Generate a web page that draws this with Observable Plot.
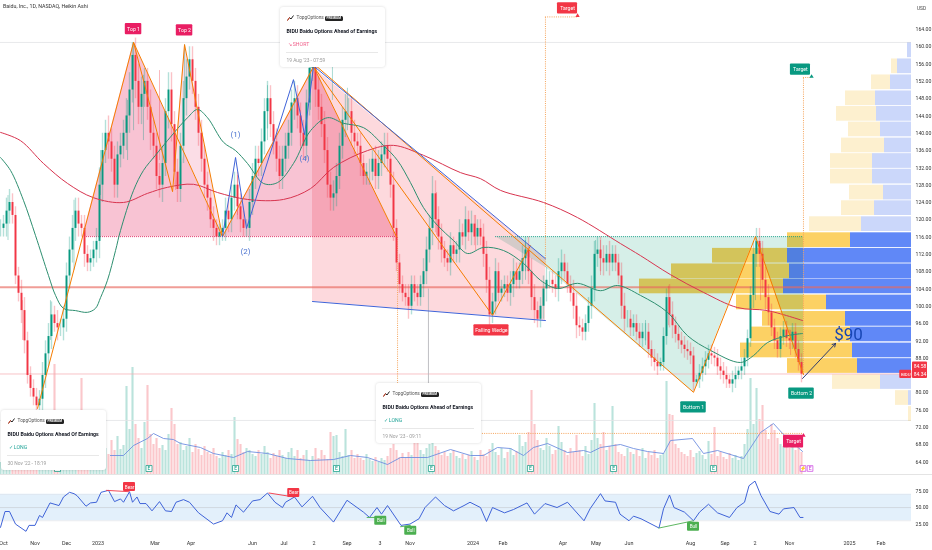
<!DOCTYPE html>
<html>
<head>
<meta charset="utf-8">
<script src="https://cdn.jsdelivr.net/npm/d3@7"></script>
<script src="https://cdn.jsdelivr.net/npm/@observablehq/plot@0.6"></script>
<style>
html,body{margin:0;padding:0;background:#fff;width:932px;height:550px;overflow:hidden;font-family:Roboto,sans-serif}
#chart{position:relative;width:932px;height:550px;overflow:hidden}
#chart>svg{position:absolute;left:0}
.card{position:absolute;width:105px;height:60px;background:#fff;border-radius:3px;box-shadow:0 0 3px rgba(0,0,0,.16);color:#131722;box-sizing:border-box}
.card div{position:absolute;white-space:nowrap}
.brand{top:7.5px;left:16.5px;font-size:4.8px;color:#555}
.badge{top:8.5px;left:45px;background:#222;color:#fff;font-size:3.2px;font-weight:700;padding:0.5px 1.5px;border-radius:1.5px}
.logo{top:8px;left:7px;line-height:0}
.logo svg{display:block}
.ttl{top:20.5px;left:6.5px;font-size:5.25px;font-weight:700}
.st{top:33.5px;left:7.5px;font-size:5.2px}
.hr{top:45px;left:6px;right:7px;border-top:.6px solid #e8e8e8}
.dt{top:50px;left:6.5px;font-size:4.9px;color:#9a9a9a}
.name{position:absolute;left:3px;top:3px;font-size:5.3px;color:#333}
</style>
</head>
<body>
<div id="chart"></div>
<script>
// ---- candles: close sampled every 2 trading bars, prices in USD ----
const closes = [118,119,122,124,121,107,103,99,92,84,81,
79,77,78.5,84,89,93,98,96,95,95,97,
107,113,118,122,119,118,112,110,111,113,115,
128,136,140,138,134,128,135,137,140,144,150,158,152,146,149,152,146,140,137,130,128,133,145,150,142,131,127,137,148,153,157,152,146,140,134,128,125,120,118,116,117,118,122,120,125,128,123,120,118,118,124,130,134,133,138,145,148,142,138,134,130,134,137,140,147,148,144,140,137,147,155,156,150,146,142,136,128,125,126,130,137,143,145,145,140,138,137,133,130,131,131,134,130,133,135,137,134,128,118,110,105,103,102,100,105,103,102,105,108,113,118,126,120,116,113,111,110,114,112,113,117,116,120,117,119,116,118,116,112,106,98,101,108,103,104,105,103,105,108,106,108,111,113,108,102,99,97,100,104,106,106,105,104,108,110,108,105,103,100,95.5,95,94,96,100,104,112,113,111,110,112,110,112,110,107,100,97,97,95,96,94,92.5,94,94,90,88,87,86,87,93,102,98,95.5,93.5,92,91,90,89.5,88.5,82.4,83,84.5,86,87.5,89,88.5,88,86,85,84,83,82,83,84,85,86,88,92.5,102.5,112,115,112,106,102,98.5,95,92,90,93,94.5,92.5,92,94,90,87,84.3];
const barStep = 2;
// pale wick reach beyond each candle body, USD
const wickReach = [2,2,3,3,2,2,2,3,3,2,2,
2,2,2,3,3,3,3,2,3,2,3,
3,3,3,3,3,2,3,2,2,2,3,
4,4,3,4,3,3,3,3,3,4,4,3,4,4,4,3,3,4,3,3,3,4,3,4,4,3,3,3,4,4,3,3,3,3,3,3,3,2,3,2,2,2,3,3,3,3,3,3,2,2,3,3,3,3,3,3,4,3,3,3,3,3,3,3,3,4,3,3,3,3,3,3,4,3,3,3,3,3,3,3,3,3,4,3,3,3,2,3,2,2,3,2,3,3,3,3,3,3,3,2,2,2,2,3,2,2,2,2,3,3,3,4,3,3,3,2,2,3,2,2,3,2,3,2,3,2,2,2,3,3,3,2,3,2,2,2,2,3,3,2,2,3,3,3,3,3,2,2,3,3,2,2,2,3,3,2,2,2,3,3,2,2,2,2,3,3,3,3,3,2,3,2,2,2,3,3,2,2,2,2,2,2,2,2,2,2,2,1,2,2,3,3,2,2,2,2,2,2,2,1,2,2,2,2,2,2,2,2,2,2,1,2,2,1,2,2,2,2,3,3,3,3,3,3,2,2,2,2,2,2,2,2,2,2,2,2,2,1];
const wickBars = [5,14.7,33.3,49,66.7,84.7,88.7,95.3,106,116.7,122.7,158,178,200,206.7,221.3,231.3,290.7,316.7,350,396.7,400,430,445.3,503.3,506.7,526.7];
const wickHighs = [125.6,101.3,101.3,124.5,136,147.6,161,153.4,154.5,136,160.5,130.2,151,145.3,155.4,155.2,150.4,126.3,121,115.2,115.2,115.2,96.7,104.6,116.1,114.5,94.4];
const wickLows = [115.2,92.1,92.1,108.3,125.6,133.7,140.6,138.3,133.7,126.8,147.6,121,138.3,136,145.3,147.6,140.6,116.4,112.9,106,103.6,107.1,90.9,95.5,101.3,101.3,88.6];
// ---- volume in millions, one per candle ----
const volumes = [1.2,1.4,1.6,1.3,1.8,1.5,1.7,2,1.6,1.9,
2.2,1.8,2,2.4,2.1,1.9,2.3,2,11,2.5,
2.2,2,1.8,2.4,2.6,2.1,2,9.6,2.3,2.5,
2,2.2,1.9,2.4,2.1,2.6,2,3.4,2.4,3.8,
2.5,2.9,8.8,4.5,10.7,5,3.6,2.6,5.2,8.9,
4,3,3.6,2.6,2.9,2.4,4,6.6,5,3,
3.2,2.4,2.8,3.6,2.2,3,2.5,1.9,2.8,2.2,
2,2.6,1.8,1.6,2.2,1.9,2.4,2,5.7,3.5,
3,2.2,2.6,2.4,2,1.8,2.4,2,2.8,2.2,
1.6,2.1,1.8,2.4,1.9,1.6,2.2,2.6,1.8,2.4,
1.6,1.9,2.4,1.4,1.8,2.6,1.6,2.4,1.9,1.5,
4.2,3.8,3.9,2.2,1.8,4.5,1.9,2.4,1.6,2,
1.6,1.4,2,1.5,1.3,1.7,1.2,1.6,1.4,1.8,
2.6,3,2.4,1.7,2.1,1.6,2.2,1.9,3.2,4.5,
2.4,2,2.6,3,3.2,2.8,2.4,1.9,2.2,1.8,
2.1,2.4,1.8,1.6,2,1.5,1.9,2.3,1.7,1.4,
2.4,2,1.8,2.5,3.1,2.2,1.9,2.6,1.6,2.2,
2.6,1.9,2.3,3.9,2.8,3.2,4.2,8.4,5,3.4,
2.6,2.4,3.6,2.8,2,2.4,4.8,3.2,2.4,1.9,
2.6,2.2,3.9,2.4,1.8,2.8,2,3.4,7.1,3.6,
3,4.2,2.4,2.8,6.8,3,2.2,2,1.8,2.6,
2.2,2,2.4,1.8,2.6,1.6,2.2,1.9,2.4,1.6,
1.9,2.1,9.3,6,5.9,3,2.6,2.2,2,1.8,
2.4,1.7,2.1,2.3,1.9,1.5,3.3,2,4.7,1.8,
2.2,1.7,1.5,2.1,1.6,1.9,1.4,1.8,3,4.5,
9.6,5,8.6,5.5,6.9,4.4,3.5,5,4.4,3.6,
3,2.8,3.4,2.6,2.9,2.4,2.6,2.2];
const volMaBars = [73.3,82,88.7,98,102,108.7,115.3,120,133.3,142,155.3,164.7,178,191.3,206.7,222,233.3,244.7,258,266.7,284.7,300,313.3,322,331.3,340,348.7,355.3,364.7,378,388.7,393.3,400,413.3,422,431.3,442,446.7,461.3,468.7,478,495.3,506.7,515.3,522,534.7];
const volMaValues = [1.9,1.9,2.9,3.6,4.1,3.6,3.5,3.1,2.7,2.1,1.7,2.3,2.1,1.6,1.4,1.5,1.9,1.7,1,1.7,1.7,2.5,1.9,1.9,2.7,2.6,1.9,2.7,3.1,2.2,2.4,2.2,2.7,3,2.6,2.3,2.1,3.4,3.6,2.1,2.4,1.6,4.2,5.1,4,2.3];
// ---- moving averages ----
const ma50Bars = [0,6.7,15.3,23.3,32,36.7,42,50,58,63.3,66.7,71.3,76.7,80,88.7,95.3,103.3,111.3,124.7,131.3,138,148.7,156.7,164.7,175.3,184.7,195.3,206.7,218,228.7,242,255.3,264.7,273.3,282,291.3,302,311.3,322,335.3,348.7,360,371.3,384.7,400,411.3,426.7,444.7,458,473.3,493.3,502,511.3,524.7,534.7];
const ma50Values = [134.4,131.4,124.5,116.4,107.1,102.5,99.5,99,98.6,99.5,102,106,112.9,117.5,126.8,131.4,134.9,138.3,143.6,145.5,143.6,137.9,136,133,128.4,128.6,133,140.6,143.6,142.3,141.3,137.2,133.7,128.6,122.8,118.7,115.2,112.2,113.6,112.9,109.9,106,104.1,105.3,103.6,104.8,102.5,98.6,93.2,89.8,87,88.6,91.6,93.2,93.7];
const ma200Bars = [0,13.3,28.7,44.7,62,82,98,111.3,128.7,144.7,164.7,188.7,206.7,222,244.7,262,282,306.7,320,333.3,362,384.7,413.3,426.7,446.7,468.7,491.3,511.3,534.7];
const ma200Values = [140.2,138.3,133,128.4,125.1,124,126.1,127.5,128.2,126.3,124.7,124.7,127.2,132.1,136,137.2,134.9,130.9,129.5,126.8,124,120.5,114.5,111.7,107.3,103.2,99.7,99,96.7];
// ---- RSI ----
const rsiBars = [0,3,6,10,17,19,23,26,28,33,39,42,46,49,51,57,60,64,67,72,76,80,82,86,88,91,93,97,101,106,110,114,117,122,126,132,142,148,151,154,157,162,168,173,178,183,188,190,196,201,208,213,222,231,242,246,251,254,258,267,273,279,283,290,296,302,309,313,320,324,328,336,342,351,356,363,371,378,389,393,400,403,410,413,419,422,427,439,442,446,449,456,462,466,472,478,486,491,496,499,503,507,513,519,522,529,533,535];
const rsiValues = [20,44,44,25,14,23,23,38,35,57,53,66,73,71,68,52,57,58,73,76,59,63,58,74,58,66,56,56,45,59,45,44,58,62,58,42,25,30,42,35,54,43,60,62,72,58,50,58,66,51,67,50,28,61,43,35,50,40,53,23,25,33,50,66,53,45,53,58,50,29,50,42,47,57,40,56,50,58,30,48,71,60,58,40,30,37,33,19,48,69,50,43,30,43,55,42,35,50,58,83,90,68,44,40,48,50,35,35];
const divergences = [
  {kind:"Bear", bars:[70.7,85.6], rsi:[76,74]},
  {kind:"Bear", bars:[179,195.6], rsi:[72,66]},
  {kind:"Bull", bars:[244.4,253.3], rsi:[35,35]},
  {kind:"Bull", bars:[266.7,273.3], rsi:[21,23]},
  {kind:"Bull", bars:[439,462], rsi:[19,30]}
];
const divergenceLabels = [
  {t:"Bear",bar:86,rsi:81,c:"#f23645"},{t:"Bear",bar:195.5,rsi:72,c:"#f23645"},
  {t:"Bull",bar:253.5,rsi:30,c:"#4caf50"},{t:"Bull",bar:273.5,rsi:15,c:"#4caf50"},{t:"Bull",bar:462,rsi:21,c:"#4caf50"}
];
// ---- drawn patterns [bar, price] ----
const fibTop = [[24.7,76.4],[88.7,161],[114.7,126.5],[122.7,160.5],[148,116.1],[208.7,155.4],[264,116.1]];
const diagA = [[88.7,161],[148,116.1]];
const wedgeInnerA = [[208.7,155.4],[328,97.9],[353.3,114]];
const wedgeInnerB = [[211,155.4],[462,80.1],[503.3,116.1],[535.3,84.2]];
const waves = [[148,116.1],[156.7,134.4],[164,118],[195.3,152.4],[202.7,139.7],[208.7,155.4]];
const wedgeUpper = [[209.3,155.4],[363.3,111]];
const wedgeLower = [[208,101.1],[363.3,96.7]];
// fills: [bar, lower price, upper price]
const pinkMain = [[54.7,116.1,116.1],[88.7,116.1,161],[148,116.1,116.1]];
const pinkLight = [[114.7,126.5,126.5],[122.7,135.3,160.5],[148,116.1,116.1]];
const pinkHead = [[148,116.1,116.1],[208.7,116.1,155.4],[264,116.1,116.1]];
const wedgeFill = [[208,101.1,155.4],[363.3,96.7,111]];
const mintFill = [[330,116.1,116.1],[363.3,109,116.1],[462,80.1,116.1],[503.3,116.1,116.1],[535.3,84.2,116.1]];
// ---- volume profile ----
const profileTop = [161,157.3,153.6,149.9,146.3,142.7,139,135.4,131.8,128.1,124.5,120.8,117.1,113.5,109.9,106.4,102.7,98.9,95.3,91.6,88,84.3,80.6,76.9];
const profileUp = [4,14,21,36,35,31,27,39,39,28,37,50,61,124,122,128,85,66,61,59,54,31,3,0];
const profileDown = [0,6,19,30,40,32,43,42,42,34,33,52,63,75,118,144,90,83,99,112,70,48,13,3];
const valueAreaHigh = 117.1, valueAreaLow = 84.3;
// ---- axes ----
const priceTicks = [164,160,156,152,148,144,140,136,132,128,124,120,116,112,108,104,100,96,92,88,80,76,72,68,64];
const rsiTicks = [75,50,25];
const timeBars = [2,23,44,65,103,127,168,189,209,231,253,273,315,335,375,397,419,460,483,503,526,566,587];
const timeLabels = ["Oct","Nov","Dec","2023","Mar","Apr","Jun","Jul","2","Sep","3","Nov","2024","Feb","Apr","May","Jun","Aug","Sep","2","Nov","2025","Feb"];
const earningsBars = [38,99,156.7,224,287.3,353.3,408.7,475.3];
// labels: centre, half width in bars, half height in USD
const tags = [
 {t:"Top 1",bar:88.7,p:164.1,c:"#e91e63",hw:5.5,hh:1.3},{t:"Top 2",bar:122.7,p:163.8,c:"#e91e63",hw:5.5,hh:1.3},
 {t:"Falling Wedge",bar:327.3,p:94.4,c:"#f23645",hw:11.7,hh:1.3},
 {t:"Bottom 1",bar:462,p:76.6,c:"#089981",hw:8.5,hh:1.3},{t:"Bottom 2",bar:534,p:79.8,c:"#089981",hw:8.5,hh:1.3},
 {t:"Target",bar:533.3,p:154.7,c:"#089981",hw:6.7,hh:1.3},{t:"Target",bar:378,p:168.9,c:"#f23645",hw:6.7,hh:1.3},
 {t:"Target",bar:528.7,p:68.7,c:"#e91e63",hw:6.7,hh:1.45}
];
const tagTails = [{bar:540.7,p:153.1,c:"#089981"},{bar:384.7,p:167.2,c:"#f23645"},{bar:535.3,p:70.1,c:"#e91e63"}];
const waveLabels = [{t:"(1)",bar:156.7,p:139.7},{t:"(2)",bar:163.3,p:112.7},{t:"(4)",bar:202.7,p:134.2}];
const lastPrices = [{t:"84.58",p:86.07},{t:"84.34",p:84.2}];

const up="#089981", dn="#f23645", orange="#f57c00";
const candles = closes.map((c,i)=>({bar:i*barStep, open:i?closes[i-1]:c, close:c, vol:volumes[i], reach:wickReach[i]||2}));
const dirColor = d=>d.close>=d.open?up:dn;
const wicks = wickBars.map((b,i)=>({bar:b,hi:wickHighs[i],lo:wickLows[i],c:dirColor(candles[Math.min(candles.length-1,Math.round(b/barStep))])}));
const pts = a=>a.map(d=>({bar:d[0],p:d[1]}));
const fill = a=>a.map(d=>({bar:d[0],lo:d[1],hi:d[2]}));
const zip = (bars,vals)=>bars.map((b,i)=>({bar:b,v:vals[i]}));
const rightBar = 607.33, perBar = 2/3;
const profile = profileTop.map((top,i)=>{
  const strong = top<=valueAreaHigh && top>valueAreaLow;
  return {top,bottom:top-3.63,strong,
    b1:rightBar-profileUp[i]*perBar,b2:rightBar,
    y1:rightBar-(profileUp[i]+profileDown[i])*perBar,y2:rightBar-profileUp[i]*perBar};
});
const xScale = {type:"linear",domain:[0,621.33],range:[0,932],axis:null};
const fontFamily="Roboto,sans-serif";
const chart = document.getElementById("chart");
const poly=(a,o)=>Plot.areaY(fill(a),{x:"bar",y1:"lo",y2:"hi",curve:"linear",...o});
const ln=(a,o)=>Plot.line(pts(a),{x:"bar",y:"p",curve:"linear",...o});

// volume pane
chart.append(Plot.plot({
  width:932,height:110,margin:0,x:xScale,y:{domain:[0,11],range:[110,0],axis:null},
  style:{top:"364px",background:"transparent",fontFamily},
  marks:[
    Plot.ruleX(candles,{x:"bar",y1:0,y2:"vol",stroke:dirColor,strokeOpacity:.28,strokeWidth:2.1}),
    Plot.line(zip(volMaBars,volMaValues),{x:"bar",y:"v",stroke:"#6f8fe0",strokeWidth:.9}),
    Plot.dot(earningsBars,{x:d=>d,y:.6,symbol:"square",r:3.4,fill:"#fff",stroke:up,strokeWidth:.7}),
    Plot.text(earningsBars,{x:d=>d,y:.6,text:()=>"E",fill:up,fontSize:5}),
    Plot.dot([535,539.7],{x:d=>d,y:.6,symbol:"square",r:3.2,fill:"#fff",stroke:"#c83ee0",strokeWidth:.7}),
    Plot.text(["⚡","E"],{x:(d,i)=>[535,539.7][i],y:.6,text:d=>d,fill:"#c83ee0",fontSize:5})
  ]
}));

// RSI pane
chart.append(Plot.plot({
  width:932,height:76,margin:0,x:xScale,y:{domain:[-15,100],range:[76,0],axis:null},
  style:{top:"474px",background:"transparent",fontFamily},
  marks:[
    Plot.rect([{}],{x1:0,x2:rightBar,y1:30,y2:70,fill:"#e3f0fb"}),
    Plot.ruleY([50],{x1:0,x2:rightBar,stroke:"#cdd3da",strokeWidth:.8}),
    Plot.ruleY([30,70],{x1:0,x2:rightBar,stroke:"#d8dde3",strokeWidth:.5}),
    Plot.ruleY([100],{stroke:"#e4e4e4",strokeWidth:1}),
    Plot.line(zip(rsiBars,rsiValues),{x:"bar",y:"v",stroke:"#3f63d8",strokeWidth:1}),
    ...divergences.map(d=>Plot.line(d.bars.map((b,i)=>({b,r:d.rsi[i]})),{x:"b",y:"r",stroke:d.kind==="Bear"?"#f23645":"#4caf50",strokeWidth:.9})),
    Plot.rect(divergenceLabels,{x1:d=>d.bar-4,x2:d=>d.bar+4,y1:d=>d.rsi-6.8,y2:d=>d.rsi+6.8,fill:"c",rx:1}),
    Plot.text(divergenceLabels,{x:"bar",y:"rsi",text:"t",fill:"#fff",fontSize:4.6}),
    Plot.text(rsiTicks,{x:()=>610,y:d=>d,text:d=>d.toFixed(2),textAnchor:"start",fontSize:5.2,fill:"#333"}),
    Plot.text(timeBars,{x:d=>d,y:()=>-4.5,text:(d,i)=>timeLabels[i],fontSize:5.4,fill:"#333"})
  ]
}));

// price pane
chart.append(Plot.plot({
  width:932,height:474,margin:0,x:xScale,y:{domain:[61.1,170.7],range:[474,0],axis:null},
  style:{top:"0px",background:"transparent",fontFamily},
  marks:[
    Plot.ruleY([161],{x1:0,x2:rightBar,stroke:"#e2e3e6",strokeWidth:.8}),
    Plot.ruleY([73.6],{x1:0,x2:rightBar,stroke:"#e2e3e6",strokeWidth:.8}),
    poly(pinkMain,{fill:"#f8c3d3"}),
    poly(pinkLight,{fill:"#fbdde6"}),
    poly(pinkHead,{fill:"#f8c3d3"}),
    poly(wedgeFill,{fill:"#fdd9dd",mixBlendMode:"multiply"}),
    poly(mintFill,{fill:"#d6efe8",mixBlendMode:"multiply"}),
    Plot.rect(profile,{x1:"b1",x2:"b2",y1:"bottom",y2:"top",insetTop:.5,insetBottom:.5,fill:d=>d.strong?"#6088f7":"#cbd7fa",mixBlendMode:"multiply"}),
    Plot.rect(profile,{x1:"y1",x2:"y2",y1:"bottom",y2:"top",insetTop:.5,insetBottom:.5,fill:d=>d.strong?"#fcd164":"#fdf0cf",mixBlendMode:"multiply"}),
    Plot.ruleY([104.4],{x1:0,x2:rightBar,stroke:"#e8695f",strokeOpacity:.65,strokeWidth:1.8}),
    Plot.ruleY([84.34],{x1:0,x2:rightBar,stroke:"#f4a7ad",strokeWidth:.7}),
    Plot.ruleY([116.1],{x1:54.7,x2:264,stroke:"#e0245e",strokeWidth:.9,strokeDasharray:"1 1"}),
    Plot.ruleY([116.1],{x1:330,x2:535.3,stroke:"#089981",strokeWidth:.8,strokeDasharray:"1 1"}),
    Plot.ruleX([363.3],{y1:109,y2:166.9,stroke:"#f5a35a",strokeWidth:1,strokeDasharray:"1 1.2"}),
    Plot.ruleY([166.9],{x1:363.3,x2:384.7,stroke:"#f5a35a",strokeWidth:1,strokeDasharray:"1 1.2"}),
    Plot.ruleX([535.3],{y1:84.2,y2:152.9,stroke:"#f5a35a",strokeWidth:1,strokeDasharray:"1 1.2"}),
    Plot.ruleY([152.9],{x1:535.3,x2:540.7,stroke:"#f5a35a",strokeWidth:1,strokeDasharray:"1 1.2"}),
    Plot.ruleX([264.7],{y1:82.1,y2:116.1,stroke:"#f5a35a",strokeWidth:1,strokeDasharray:"1 1.2"}),
    Plot.ruleY([70.6],{x1:321.3,x2:535.3,stroke:"#f5a35a",strokeWidth:1,strokeDasharray:"1 1.2"}),
    Plot.ruleX([285.3],{y1:82.1,y2:104,stroke:"#b8b8bc",strokeWidth:.9}),
    Plot.ruleX(candles,{x:"bar",y1:d=>Math.min(d.open,d.close)-d.reach,y2:d=>Math.max(d.open,d.close)+d.reach,stroke:dirColor,strokeOpacity:.3,strokeWidth:1.4}),
    Plot.ruleX(wicks,{x:"bar",y1:"lo",y2:"hi",stroke:"c",strokeOpacity:.35,strokeWidth:1}),
    Plot.ruleX(candles,{x:"bar",y1:"open",y2:"close",stroke:dirColor,strokeWidth:1.9}),
    Plot.line(zip(ma50Bars,ma50Values),{x:"bar",y:"v",stroke:"#2e8f70",strokeWidth:1,curve:"catmull-rom"}),
    Plot.line(zip(ma200Bars,ma200Values),{x:"bar",y:"v",stroke:"#d8344f",strokeWidth:1,curve:"catmull-rom"}),
    ln(fibTop,{stroke:orange,strokeWidth:1}),
    ln(diagA,{stroke:orange,strokeWidth:1}),
    ln(wedgeInnerA,{stroke:orange,strokeWidth:1}),
    ln(wedgeInnerB,{stroke:orange,strokeWidth:1}),
    ln(waves,{stroke:"#3f63d8",strokeWidth:1}),
    ln(wedgeUpper,{stroke:"#3f63d8",strokeWidth:1}),
    ln(wedgeLower,{stroke:"#3f63d8",strokeWidth:1}),
    Plot.arrow([{}],{x1:()=>534.7,y1:()=>83.3,x2:()=>556.7,y2:()=>91.4,stroke:"#172a6e",strokeWidth:.9,headLength:6,bend:0}),
    Plot.text(["$90"],{x:()=>565.3,y:()=>93.5,text:d=>d,fill:"#1846b4",fontSize:17}),
    Plot.text(waveLabels,{x:"bar",y:"p",text:"t",fill:"#4a72d0",fontSize:8}),
    Plot.dot(tagTails,{x:"bar",y:"p",symbol:"triangle",r:1.6,fill:"c"}),
    Plot.rect(tags,{x1:d=>d.bar-d.hw,x2:d=>d.bar+d.hw,y1:d=>d.p-d.hh,y2:d=>d.p+d.hh,fill:"c",rx:1}),
    Plot.text(tags,{x:"bar",y:"p",text:"t",fill:"#fff",fontSize:5.2}),
    Plot.text(priceTicks,{x:()=>610,y:d=>d,text:d=>d.toFixed(2),textAnchor:"start",fontSize:5.2,fill:"#333"}),
    Plot.text(["USD"],{x:()=>614,y:()=>168.8,text:d=>d,textAnchor:"middle",fontSize:4.8,fill:"#444"}),
    Plot.rect([{}],{x1:()=>608,x2:()=>618,y1:()=>83.3,y2:()=>87.1,fill:"#f23645",rx:1}),
    Plot.rect([{}],{x1:()=>599.5,x2:()=>607.5,y1:()=>83.3,y2:()=>85.2,fill:"#f23645",rx:1}),
    Plot.text(lastPrices,{x:()=>613,y:"p",text:"t",fill:"#fff",fontSize:5}),
    Plot.text(["BIDU"],{x:()=>603.5,y:()=>84.2,text:d=>d,fill:"#fff",fontSize:4.4})
  ]
}));

// captions
const logo='<svg width="7" height="6" viewBox="0 0 7 6"><path d="M.5 5.5L2.5 2.5 4 4 6.5.5" fill="none" stroke="#222" stroke-width="1"/><path d="M.5 5.5L2.5 2.5" stroke="#e53" stroke-width="1"/></svg>';
function card(left,top,title,status,color,date){
  const c=document.createElement("div");c.className="card";c.style.left=left+"px";c.style.top=top+"px";
  c.innerHTML=`<div class="logo">${logo}</div><div class="brand">TopgOptions</div><div class="badge">PREMIUM</div>`+
   `<div class="ttl">${title}</div><div class="st" style="color:${color}">${status}</div><div class="hr"></div><div class="dt">${date}</div>`;
  chart.append(c);
}
card(280,7,"BIDU Baidu Options Ahead of Earnings","↘ SHORT","#f0628c","19 Aug '23 - 07:59");
card(376,383,"BIDU Baidu Options Ahead of Earnings","✓ LONG","#26a69a","19 Nov '23 - 09:11");
card(1,410,"BIDU Baidu Options Ahead Of Earnings","✓ LONG","#26a69a","30 Nov '22 - 18:19");
const nm=document.createElement("div");nm.className="name";nm.textContent="Baidu, Inc., 1D, NASDAQ, Heikin Ashi";chart.append(nm);
</script>
</body>
</html>
